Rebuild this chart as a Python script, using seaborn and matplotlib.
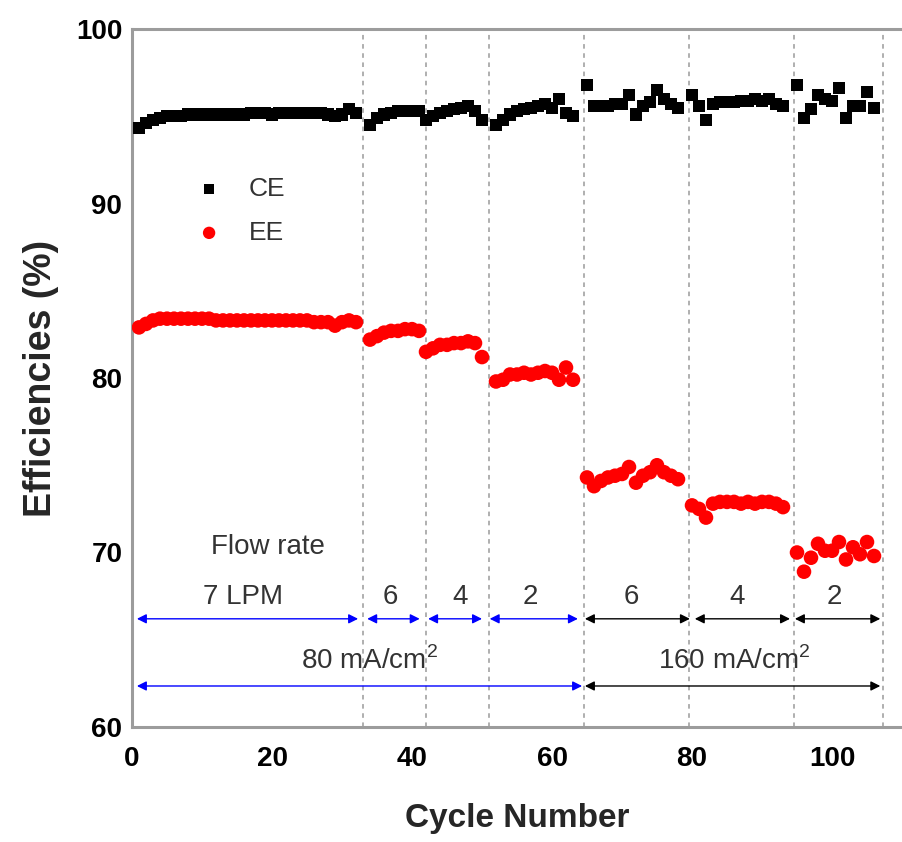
import matplotlib
matplotlib.use("Agg")
import matplotlib.pyplot as plt
import seaborn as sns
import pandas as pd

# ---- data ----
seg_start = [1, 34, 42, 52, 65, 80, 95]
seg_end = [32, 41, 50, 63, 78, 93, 106]

ce = [94.3, 94.6, 94.8, 94.9, 95.0, 95.0, 95.0, 95.1, 95.1, 95.1, 95.1, 95.1, 95.1, 95.1, 95.1, 95.1,
      95.2, 95.2, 95.2, 95.1, 95.2, 95.2, 95.2, 95.2, 95.2, 95.2, 95.2, 95.1, 95.0, 95.1, 95.4, 95.2,
      94.5, 94.9, 95.1, 95.2, 95.3, 95.3, 95.3, 95.3,
      94.8, 95.0, 95.2, 95.3, 95.4, 95.5, 95.6, 95.3, 94.8,
      94.5, 94.8, 95.1, 95.3, 95.4, 95.5, 95.6, 95.7, 95.5, 96.0, 95.2, 95.0,
      96.8, 95.6, 95.6, 95.6, 95.7, 95.7, 96.2, 95.1, 95.6, 95.8, 96.5, 96.0, 95.7, 95.5,
      96.2, 95.6, 94.8, 95.7, 95.8, 95.8, 95.8, 95.9, 95.9, 96.0, 95.9, 96.0, 95.7, 95.6,
      96.8, 94.9, 95.4, 96.2, 96.0, 95.9, 96.6, 94.9, 95.6, 95.6, 96.4, 95.5]

ee = [82.9, 83.1, 83.3, 83.4, 83.4, 83.4, 83.4, 83.4, 83.4, 83.4, 83.4, 83.3, 83.3, 83.3, 83.3, 83.3,
      83.3, 83.3, 83.3, 83.3, 83.3, 83.3, 83.3, 83.3, 83.3, 83.2, 83.2, 83.2, 83.0, 83.2, 83.3, 83.2,
      82.2, 82.4, 82.6, 82.7, 82.7, 82.8, 82.8, 82.7,
      81.5, 81.7, 81.9, 81.9, 82.0, 82.0, 82.1, 82.0, 81.2,
      79.8, 79.9, 80.2, 80.2, 80.3, 80.2, 80.3, 80.4, 80.3, 79.9, 80.6, 79.9,
      74.3, 73.8, 74.1, 74.3, 74.4, 74.5, 74.9, 74.0, 74.4, 74.6, 75.0, 74.6, 74.4, 74.2,
      72.7, 72.5, 72.0, 72.8, 72.9, 72.9, 72.9, 72.8, 72.9, 72.8, 72.9, 72.9, 72.8, 72.6,
      70.0, 68.9, 69.7, 70.5, 70.1, 70.1, 70.6, 69.6, 70.3, 69.9, 70.6, 69.8]

boundaries = [33, 42, 51, 64.5, 79.5, 94.5, 107.3]
flow_labels = ["7 LPM", "6", "4", "2", "6", "4", "2"]
flow_label_x = [15.9, 36.9, 46.9, 56.9, 71.4, 86.4, 100.4]
flow_arrows = [(0.7, 32.3), (33.6, 41.1), (42.3, 50.0), (51.1, 63.7),
               (64.7, 79.7), (80.4, 94.0), (94.7, 106.9)]
flow_colors = ["blue", "blue", "blue", "blue", "black", "black", "black"]
current_labels = ["80 mA/cm$^2$", "160 mA/cm$^2$"]
current_label_x = [34.0, 86.1]
current_arrows = [(0.7, 64.3), (64.7, 106.9)]
current_colors = ["blue", "black"]

cycles = []
for s, e in zip(seg_start, seg_end):
    cycles += list(range(s, e + 1))

df = pd.DataFrame({"Cycle": cycles, "CE": ce, "EE": ee})

# ---- style ----
sns.set_theme(style="white")
plt.rcParams['font.family'] = ['Liberation Sans', 'DejaVu Sans']
plt.rcParams['mathtext.fontset'] = 'custom'
plt.rcParams['mathtext.rm'] = 'Liberation Sans'

fig = plt.figure(figsize=(9.02, 8.42), dpi=100)
ax = fig.add_axes([132 / 902, 115 / 842, 770 / 902, 698 / 842])

for b in boundaries:
    ax.axvline(b, color="#9a9a9a", lw=1.1, ls=(0, (3, 3)), zorder=1)

sns.scatterplot(data=df, x="Cycle", y="CE", marker="s", color="black", s=75,
                edgecolor="none", ax=ax, label="CE", zorder=3)
sns.scatterplot(data=df, x="Cycle", y="EE", marker="o", color="red", s=110,
                edgecolor="none", ax=ax, label="EE", zorder=3)

ax.set_xlim(0, 110)
ax.set_ylim(60, 100)
ax.set_xticks([0, 20, 40, 60, 80, 100])
ax.set_yticks([60, 70, 80, 90, 100])
ax.set_yticks([65, 75, 85, 95], minor=True)

for side in ["left", "bottom", "top"]:
    ax.spines[side].set_color("#9c9c9c")
    ax.spines[side].set_linewidth(2.2)
ax.spines["right"].set_visible(False)

ax.tick_params(axis="both", which="both", direction="in", color="#9c9c9c",
               width=1.5, length=8, labelsize=20, labelcolor="black")
ax.tick_params(axis="x", pad=14)
ax.tick_params(axis="y", pad=7)
for lab in ax.get_xticklabels() + ax.get_yticklabels():
    lab.set_fontweight("bold")

ax.set_xlabel("Cycle Number", fontsize=24, fontweight="bold", labelpad=22)
ax.set_ylabel("Efficiencies (%)", fontsize=27, fontweight="bold", labelpad=12)

leg = ax.legend(loc="upper left", bbox_to_anchor=(0.035, 0.822), frameon=False,
                fontsize=19, handletextpad=0.5, labelspacing=0.75, markerscale=0.85)
for t in leg.get_texts():
    t.set_color("#333333")

txt_color = "#333333"
ax.text(19.4, 70.3, "Flow rate", ha="center", va="center", fontsize=20, color=txt_color)
for lab, x in zip(flow_labels, flow_label_x):
    ax.text(x, 67.45, lab, ha="center", va="center", fontsize=20, color=txt_color)
for (x1, x2), c in zip(flow_arrows, flow_colors):
    ax.annotate("", xy=(x2, 66.2), xytext=(x1, 66.2),
                arrowprops=dict(arrowstyle="<|-|>", color=c, lw=1.0,
                                mutation_scale=14, shrinkA=0, shrinkB=0))
for lab, x in zip(current_labels, current_label_x):
    ax.text(x, 63.8, lab, ha="center", va="center", fontsize=20, color=txt_color)
for (x1, x2), c in zip(current_arrows, current_colors):
    ax.annotate("", xy=(x2, 62.35), xytext=(x1, 62.35),
                arrowprops=dict(arrowstyle="<|-|>", color=c, lw=1.0,
                                mutation_scale=14, shrinkA=0, shrinkB=0))

fig.savefig("out.png", dpi=100)
